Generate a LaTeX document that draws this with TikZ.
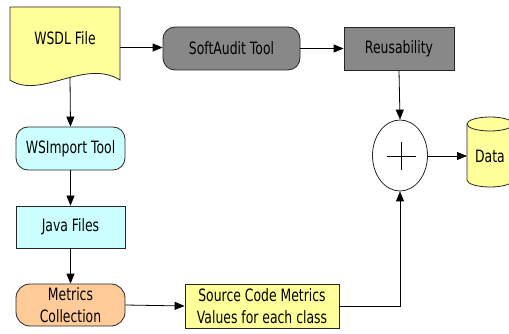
\documentclass[tikz,border=0pt]{standalone}
\usepackage{fontspec}
\setmainfont{DejaVu Sans}[FakeStretch=0.73]
\usetikzlibrary{arrows.meta,shapes.geometric}
\definecolor{docyellow}{RGB}{255,255,153}
\definecolor{toolgray}{RGB}{136,136,136}
\definecolor{lightcyan}{RGB}{204,255,255}
\definecolor{peach}{RGB}{255,204,153}
\tikzset{
  box/.style={draw=black!85, line width=0.8pt, inner sep=0pt, align=center,
    font=\fontsize{17}{21}\selectfont},
  roundbox/.style={box, rounded corners=12pt},
  conn/.style={line width=0.8pt, -{Triangle[length=10pt,width=8pt]}},
  plain/.style={line width=0.8pt},
  lbl/.style={inner sep=0pt, align=center, font=\fontsize{17}{21}\selectfont}
}
\begin{document}
\begin{tikzpicture}[x=1pt,y=-1pt]
\useasboundingbox (0,0) rectangle (509,334);

% document shape with wavy bottom edge
\draw[plain, fill=docyellow, draw=black!85]
  (10,7) -- (120,7) -- (120,80)
  .. controls (85,58) and (40,100) .. (10,80) -- cycle;
\node[lbl] (wsdl) at (65,38) {WSDL File};
\coordinate (wsdlR) at (120,47.5);
\coordinate (wsdlB) at (70,77);

% top row
\node[roundbox, fill=toolgray, minimum width=137pt, minimum height=43pt]
  (soft) at (231.5,48.5) {SoftAudit Tool};
\node[box, fill=toolgray, minimum width=110pt, minimum height=43pt]
  (reus) at (399,48.5) {Reusability};

% left column
\node[roundbox, fill=lightcyan, minimum width=109pt, minimum height=43pt]
  (wsimp) at (70.5,148.5) {WSImport Tool};
\node[box, fill=lightcyan, minimum width=109pt, minimum height=42pt]
  (java) at (70.5,227) {Java Files};
\node[roundbox, rounded corners=14pt, fill=peach, minimum width=109pt, minimum height=42pt]
  (metr) at (70.5,305) {Metrics\\[1pt]Collection};

% bottom metrics box
\node[box, fill=docyellow, minimum width=154pt, minimum height=44pt]
  (src) at (262,306) {Source Code Metrics\\[1pt]Values for each class};

% summing junction
\node[draw=black!85, line width=0.8pt, ellipse, minimum width=55pt, minimum height=71pt,
  inner sep=0pt] (sum) at (400,155.5) {};
\draw[line width=0.8pt] (387,156.5) -- (416,156.5);
\draw[line width=0.8pt] (401,142) -- (401,170);

% data store cylinder
\draw[plain, fill=docyellow, draw=black!85]
  (467,124) -- (467,180)
  .. controls (467,183.9) and (477.3,187) .. (490,187)
  .. controls (502.7,187) and (513,183.9) .. (513,180)
  -- (513,124)
  .. controls (513,120.1) and (502.7,117) .. (490,117)
  .. controls (477.3,117) and (467,120.1) .. (467,124) -- cycle;
\draw[plain, draw=black!85]
  (467,124) .. controls (467,127.9) and (477.3,131) .. (490,131)
  .. controls (502.7,131) and (513,127.9) .. (513,124);
\node[lbl] (data) at (490,156) {Data};
\coordinate (dataL) at (467,156);

% connectors
\draw[conn] (wsdlR) -- (soft.west |- wsdlR);
\draw[conn] (soft.east) -- (reus.west);
\draw[conn] (reus.south) -- (sum.north);
\draw[conn] (sum.east |- dataL) -- (dataL);
\draw[conn] (wsdlB) -- (wsimp.north);
\draw[conn] (wsimp.south) -- (java.north);
\draw[conn] (java.south) -- (metr.north);
\draw[conn] (metr.east) -- (src.west);
\draw[conn] (src.east) -| (sum.south);
\end{tikzpicture}
\end{document}
